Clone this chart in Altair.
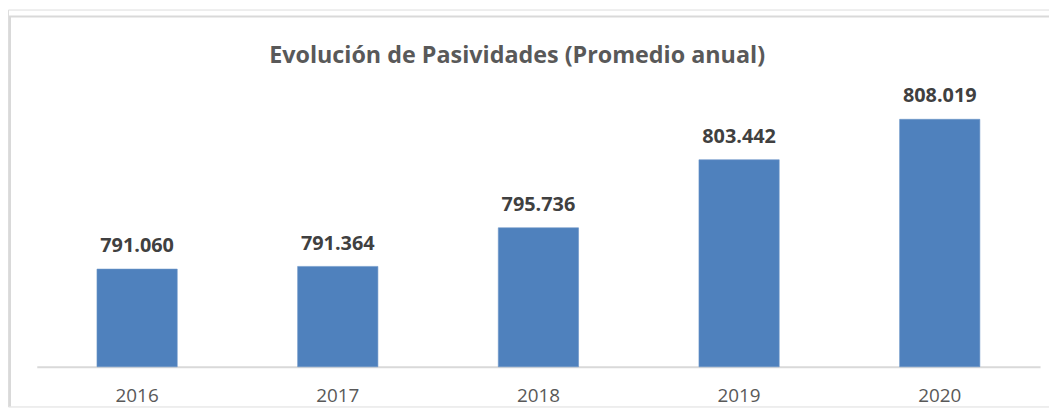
import altair as alt
import pandas as pd

years = ["2016", "2017", "2018", "2019", "2020"]
values = [791.060, 791.364, 795.736, 803.442, 808.019]
axis_min, axis_max = 780, 810
title_text = "Evolución de Pasividades (Promedio anual)"

df = pd.DataFrame({"year": years, "value": values})

W, H = 1049, 400
FONT = "Open Sans"

xscale = alt.Scale(range=[29, 1040], paddingInner=0.6, paddingOuter=0.3)
yscale = alt.Scale(domain=[axis_min, axis_max], range=[360, 93], zero=False, nice=False)

base = alt.Chart(df)

bars = base.mark_bar(color="#4f81bd", stroke="#6b95c8", strokeWidth=0.6).encode(
    x=alt.X("year:N", scale=xscale, sort=years,
            axis=alt.Axis(title=None, domainColor="#d9d9d9", domainWidth=2,
                          ticks=False, labelColor="#595959", labelFont=FONT,
                          labelFontSize=19, labelPadding=20, labelAngle=0,
                          offset=-40)),
    y=alt.Y("value:Q", scale=yscale, axis=None),
    y2=alt.Y2(datum=axis_min),
)

labels = base.mark_text(font=FONT, fontSize=20, fontWeight="bold", color="#404040",
                        baseline="alphabetic", dy=-17).encode(
    x=alt.X("year:N", scale=xscale, sort=years),
    y=alt.Y("value:Q", scale=yscale),
    text=alt.Text("value:Q", format=".3f"),
)

title = alt.Chart(pd.DataFrame({"t": [title_text]})).mark_text(
    font=FONT, fontSize=23.5, fontWeight="bold", color="#595959",
    baseline="alphabetic", align="center").encode(
    x=alt.value(513), y=alt.value(54), text="t:N")

frame_left = alt.Chart(pd.DataFrame({"a": [0]})).mark_rule(color="#d9d9d9", strokeWidth=2).encode(
    x=alt.value(2), y=alt.value(7), y2=alt.value(H))
frame_top = alt.Chart(pd.DataFrame({"a": [0]})).mark_rule(color="#d9d9d9", strokeWidth=2).encode(
    x=alt.value(1), x2=alt.value(W), y=alt.value(7))

chart = alt.layer(frame_left, frame_top, bars, labels, title).properties(
    width=W, height=H, autosize=alt.AutoSizeParams(type="none"), padding=0
).configure_view(stroke=None).configure(background="white")

chart.save("out.html", embed_options={"renderer": "svg", "actions": False})
